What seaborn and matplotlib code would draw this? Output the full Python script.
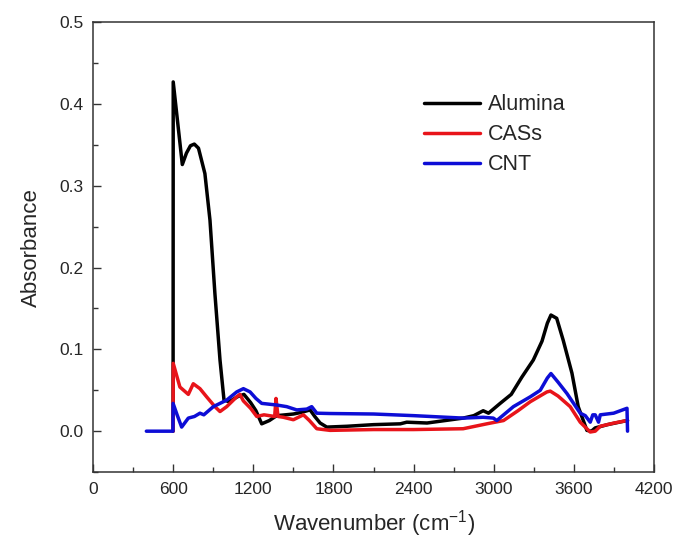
import numpy as np
import pandas as pd
import seaborn as sns
import matplotlib.pyplot as plt
from matplotlib.ticker import MultipleLocator

sns.set_theme(style="ticks")
plt.rcParams['font.family'] = ['Liberation Sans', 'DejaVu Sans']
plt.rcParams['mathtext.default'] = 'regular'

# ── data ────────────────────────────────────────────────────────
alumina_x = [600, 601, 669, 700, 730, 759, 790, 838, 876, 913, 951, 981,
             1020, 1080, 1130, 1180, 1220, 1263, 1320, 1375, 1440, 1500,
             1560, 1625, 1660, 1700, 1750, 1900, 2100, 2300, 2348, 2500,
             2770, 2850, 2920, 2960, 3047, 3130, 3209, 3295, 3360, 3400,
             3427, 3470, 3519, 3584, 3631, 3696, 3730, 3758, 3850, 3996, 4000]
alumina_y = [0.0, 0.427, 0.326, 0.340, 0.349, 0.351, 0.346, 0.315, 0.258,
             0.168, 0.087, 0.038, 0.036, 0.042, 0.045, 0.035, 0.025, 0.009,
             0.013, 0.019, 0.020, 0.021, 0.023, 0.026, 0.018, 0.010, 0.005,
             0.006, 0.008, 0.009, 0.011, 0.010, 0.016, 0.019, 0.025, 0.022,
             0.034, 0.045, 0.066, 0.087, 0.110, 0.132, 0.142, 0.138, 0.111,
             0.071, 0.030, 0.001, 0.0, 0.004, 0.008, 0.013, 0.013]

cass_x = [600, 601, 651, 714, 751, 801, 851, 913, 951, 1001, 1076, 1100,
          1126, 1180, 1226, 1280, 1360, 1370, 1385, 1425, 1500, 1575, 1620,
          1675, 1774, 2100, 2400, 2770, 2947, 3072, 3180, 3272, 3397, 3422,
          3480, 3571, 3646, 3721, 3758, 3796, 3900, 3996, 4000]
cass_y = [0.0, 0.083, 0.054, 0.045, 0.058, 0.052, 0.042, 0.030, 0.024,
          0.030, 0.042, 0.045, 0.037, 0.028, 0.018, 0.020, 0.018, 0.040,
          0.018, 0.017, 0.014, 0.020, 0.013, 0.003, 0.001, 0.002, 0.002,
          0.003, 0.009, 0.013, 0.025, 0.036, 0.048, 0.049, 0.043, 0.030,
          0.011, -0.001, 0.0, 0.006, 0.010, 0.013, 0.013]

cnt_x = [400, 599, 600, 630, 664, 714, 760, 801, 830, 901, 1001, 1076,
         1126, 1176, 1220, 1263, 1375, 1450, 1525, 1600, 1637, 1675, 1774,
         2100, 2400, 2770, 2920, 2996, 3022, 3146, 3272, 3347, 3400, 3427,
         3480, 3547, 3646, 3684, 3721, 3740, 3758, 3783, 3796, 3896, 3996,
         4000]
cnt_y = [0.0, 0.0, 0.034, 0.020, 0.005, 0.016, 0.018, 0.022, 0.020, 0.030,
         0.038, 0.048, 0.052, 0.048, 0.040, 0.034, 0.032, 0.030, 0.026,
         0.027, 0.030, 0.022, 0.0216, 0.021, 0.019, 0.016, 0.017, 0.016,
         0.013, 0.030, 0.042, 0.050, 0.065, 0.0705, 0.060, 0.046, 0.022,
         0.019, 0.011, 0.020, 0.020, 0.011, 0.020, 0.022, 0.028, 0.0]

df = pd.concat([
    pd.DataFrame({'x': alumina_x, 'y': alumina_y, 'sample': 'Alumina'}),
    pd.DataFrame({'x': cass_x, 'y': cass_y, 'sample': 'CASs'}),
    pd.DataFrame({'x': cnt_x, 'y': cnt_y, 'sample': 'CNT'}),
], ignore_index=True)

palette = {'Alumina': '#000000', 'CASs': '#e8141a', 'CNT': '#0d0dd6'}

# ── plot ────────────────────────────────────────────────────────
fig = plt.figure(figsize=(6.78, 5.42), dpi=100)
ax = fig.add_axes([0.137, 0.129, 0.828, 0.830])

sns.lineplot(data=df, x='x', y='y', hue='sample', palette=palette,
             estimator=None, sort=False, linewidth=2.5, ax=ax)

ax.set_xlim(0, 4200)
ax.set_ylim(-0.05, 0.5)
ax.xaxis.set_major_locator(MultipleLocator(600))
ax.xaxis.set_minor_locator(MultipleLocator(300))
ax.yaxis.set_major_locator(MultipleLocator(0.1))
ax.yaxis.set_minor_locator(MultipleLocator(0.05))
ax.set_yticks(np.arange(0, 0.51, 0.1))
ax.set_yticklabels([f'{v:.1f}' for v in np.arange(0, 0.51, 0.1)])
ax.tick_params(which='both', direction='in', top=False, right=False,
               labelsize=12.5, color='#333333', width=1)
ax.tick_params(which='major', length=6, pad=7)
ax.tick_params(which='minor', length=3.5)
for s in ax.spines.values():
    s.set_linewidth(1.1)
    s.set_color('#333333')

ax.set_xlabel('Wavenumber (cm$^{-1}$)', fontsize=16, labelpad=8)
ax.set_ylabel('Absorbance', fontsize=16, labelpad=12)

ax.legend(loc='upper left', bbox_to_anchor=(0.59, 0.84), frameon=False,
          fontsize=15.5, handlelength=2.6, handletextpad=0.35,
          labelspacing=0.42, borderpad=0, borderaxespad=0)

fig.savefig('out.png', dpi=100)
